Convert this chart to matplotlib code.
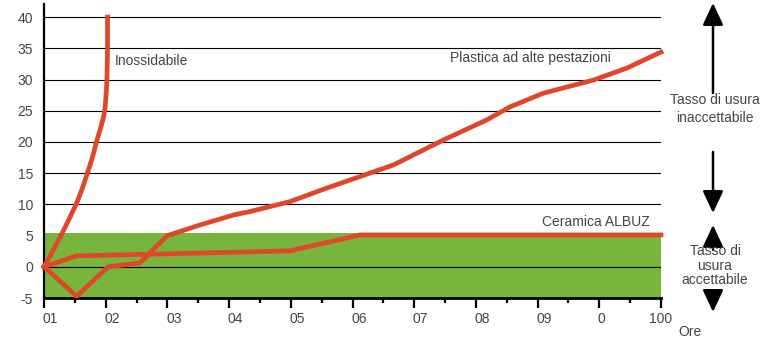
import numpy as np
import matplotlib
matplotlib.use('Agg')
import matplotlib.pyplot as plt
from matplotlib.transforms import ScaledTranslation

plt.rcParams['font.family'] = ['Liberation Sans', 'DejaVu Sans']

# x positions are in tick units (01 -> 0 ... 100 -> 10)
tick_labels = ['01', '02', '03', '04', '05', '06', '07', '08', '09', '0', '100']
y_ticks = [-5, 0, 5, 10, 15, 20, 25, 30, 35, 40]
grid_levels = [0, 5, 10, 15, 20, 25, 30, 35, 40]
band_low, band_high = -5, 5.4

inox_x = [0, 0.13, 0.27, 0.4, 0.53, 0.63, 0.72, 0.79, 0.85, 0.92, 0.97, 0.99, 1.01, 1.02, 1.03, 1.03]
inox_y = [0, 2.3, 4.9, 7.5, 10.2, 12.8, 15.5, 17.7, 20, 22.3, 24.2, 25.5, 28, 30, 35, 40]

plast_x = [0, 0.53, 1.04, 1.55, 2.0, 2.53, 3.07, 3.34, 3.99, 4.58, 5.12,
           5.66, 6.47, 7.17, 7.55, 8.09, 8.9, 9.44, 10.0]
plast_y = [0, -4.7, 0, 0.6, 5.0, 6.7, 8.3, 8.85, 10.45, 12.6, 14.45,
           16.3, 20.3, 23.5, 25.6, 27.8, 29.9, 31.8, 34.4]

cer_x = [0, 0.53, 2.53, 3.99, 5.12, 10.0]
cer_y = [0, 1.75, 2.2, 2.56, 5.1, 5.1]

red = '#e0472a'
green = '#77b53d'
txt = '#444444'

fig = plt.figure(figsize=(7.63, 3.38), dpi=100)
ax = fig.add_axes([44/763, 40/338, 617/763, 294/338])
ax.set_xlim(0, 10)
ax.set_ylim(-5, 42.1)

# grid and acceptable band
for g in grid_levels:
    ax.axhline(g, color='black', lw=0.8, zorder=0.5)
ax.axhspan(band_low, band_high, color=green, lw=0, zorder=1)
ax.axhline(0, color='black', lw=0.8, zorder=1.5)

ax.plot(inox_x, inox_y, color=red, lw=3.4, zorder=3, clip_on=False)
ax.plot(plast_x, plast_y, color=red, lw=3.4, zorder=3, clip_on=False)
ax.plot(cer_x, cer_y, color=red, lw=3.4, zorder=3, clip_on=False)

ax.text(1.15, 33, 'Inossidabile', color=txt, fontsize=10, va='center')
ax.text(6.58, 33.4, 'Plastica ad alte pestazioni', color=txt, fontsize=10, va='center')
ax.text(8.07, 7.25, 'Ceramica ALBUZ', color=txt, fontsize=10, va='center')

# axes styling
for s in ['top', 'right']:
    ax.spines[s].set_visible(False)
ax.spines['left'].set_linewidth(1.6)
ax.spines['bottom'].set_linewidth(2.0)
ax.spines['left'].set_bounds(-5, 42.1)

ax.set_yticks(y_ticks)
ax.set_yticklabels([str(v) for v in y_ticks])
ax.tick_params(axis='y', length=0, pad=8, labelsize=10, labelcolor=txt)

ax.set_xticks(np.arange(len(tick_labels)))
ax.set_xticklabels(tick_labels)
ax.set_xticks(np.arange(0.5, 10, 1), minor=True)
ax.tick_params(axis='x', which='major', length=7, width=1.6, pad=3,
               labelsize=10, labelcolor=txt)
ax.tick_params(axis='x', which='minor', length=3.5, width=1.6)
for lab in ax.get_xticklabels()[:-1]:
    lab.set_ha('left')
    lab.set_transform(lab.get_transform() + ScaledTranslation(-1/72, 0, fig.dpi_scale_trans))

fig.text(690/763, 1 - 332/338, 'Ore', color=txt, fontsize=10, ha='center', va='center')

# right-hand arrows and notes (figure pixels)
ax_x = 713
arrow_kw = dict(arrowstyle='-|>,head_length=0.9,head_width=0.42', mutation_scale=15,
                color='black', lw=1.8, shrinkA=0, shrinkB=0)
def farrow(y0, y1):
    ax.annotate('', xy=(ax_x, y1), xytext=(ax_x, y0), xycoords='figure pixels',
                textcoords='figure pixels', arrowprops=arrow_kw, annotation_clip=False)

farrow(338 - 93, 338 - 3)
farrow(338 - 152, 338 - 213)
farrow(338 - 250, 338 - 225)
farrow(338 - 291, 338 - 312)

fig.text(715/763, 1 - 109/338, 'Tasso di usura\ninaccettabile', color=txt, fontsize=10,
         ha='center', va='center', linespacing=1.3)
fig.text(715/763, 1 - 265.5/338, 'Tasso di\nusura\naccettabile', color=txt, fontsize=10,
         ha='center', va='center', linespacing=1.05)

fig.savefig('out.png', dpi=100)
